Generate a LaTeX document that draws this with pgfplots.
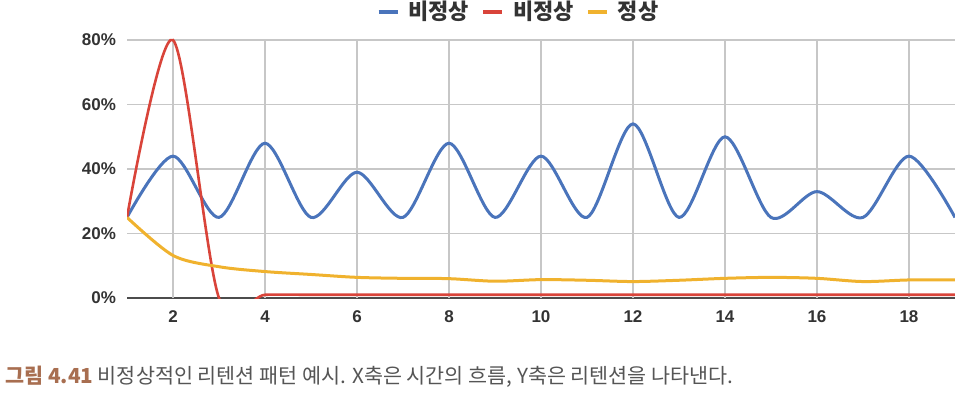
\documentclass[border=0pt]{standalone}
\usepackage{pgfplots}
\pgfplotsset{compat=1.18}
\usepackage{fontspec}
\setmainfont{Liberation Sans}
\newfontfamily\kr{Noto Sans CJK KR}
\definecolor{cblue}{RGB}{74,116,187}
\definecolor{cred}{RGB}{217,68,58}
\definecolor{cyellow}{RGB}{240,178,46}
\definecolor{capbrown}{RGB}{168,110,80}
\definecolor{capgray}{RGB}{85,85,85}
\definecolor{tickgray}{RGB}{51,51,51}
\pgfplotstableread{
x blue red yellow
1 25 25 25
2 44 80 13.2
3 25 0 9.7
4 48 1 8.2
5 25 1 7.3
6 39 1 6.4
7 25 1 6.1
8 48 1 6.0
9 25 1 5.2
10 44 1 5.7
11 25 1 5.5
12 54 1 5.1
13 25 1 5.5
14 50 1 6.1
15 25 1 6.4
16 33 1 6.1
17 25 1 5.1
18 44 1 5.6
19 25 1 5.6
}\datatable
\begin{document}
\begin{tikzpicture}
\path[use as bounding box] (0,0) rectangle (483pt,198.5pt);
\begin{axis}[
  at={(63.5pt,49.5pt)}, anchor=south west,
  scale only axis, width=414pt, height=132.2pt,
  xmin=1, xmax=19, ymin=0, ymax=82,
  xtick={2,4,...,18}, ytick={0,20,40,60,80},
  yticklabel={\pgfmathprintnumber{\tick}\%},
  /pgf/number format/assume math mode=true,
  ticklabel style={font=\fontsize{8.5}{10}\selectfont\bfseries, text=tickgray},
  yticklabel style={xshift=-2pt},
  xticklabel style={yshift=-3pt},
  major tick length=0pt,
  axis y line=left,
  axis x line=bottom,
  y axis line style={draw=none},
  x axis line style={draw=black!70, line width=0.9pt, -},
  ymajorgrids=true, xmajorgrids=false,
  major grid style={draw=black!22, line width=0.6pt},
  legend columns=3,
  legend style={at={(0.474,1.081)}, anchor=center, draw=none, fill=none,
    font=\kr\bfseries\fontsize{11}{12}\selectfont, text=tickgray,
    /tikz/every odd column/.append style={column sep=2.5pt},
    /tikz/every even column/.append style={column sep=4pt},
    inner sep=0pt},
  legend image code/.code={\draw[#1, line width=2pt] (0pt,0pt) -- (9.5pt,0pt);},
]
\pgfplotsinvokeforeach{2,4,...,18}{\draw[black!22, line width=0.6pt] (axis cs:#1,0) -- (axis cs:#1,80);}
\addplot[cblue, line width=1.5pt, smooth] table[x=x, y=blue] {\datatable};
\addlegendentry{비정상}
\addplot[cred, line width=1.3pt, smooth] table[x=x, y=red] {\datatable};
\addlegendentry{비정상}
\addplot[cyellow, line width=1.5pt, smooth] table[x=x, y=yellow] {\datatable};
\addlegendentry{정상}
\end{axis}
\node[anchor=west, inner sep=0pt, font=\kr\fontsize{10.35}{12}\selectfont] at (2.5pt,10pt)
  {{\color{capbrown}\bfseries 그림 4.41} {\color{capgray}비정상적인 리텐션 패턴 예시. X축은 시간의 흐름, Y축은 리텐션을 나타낸다.}};
\end{tikzpicture}
\end{document}
